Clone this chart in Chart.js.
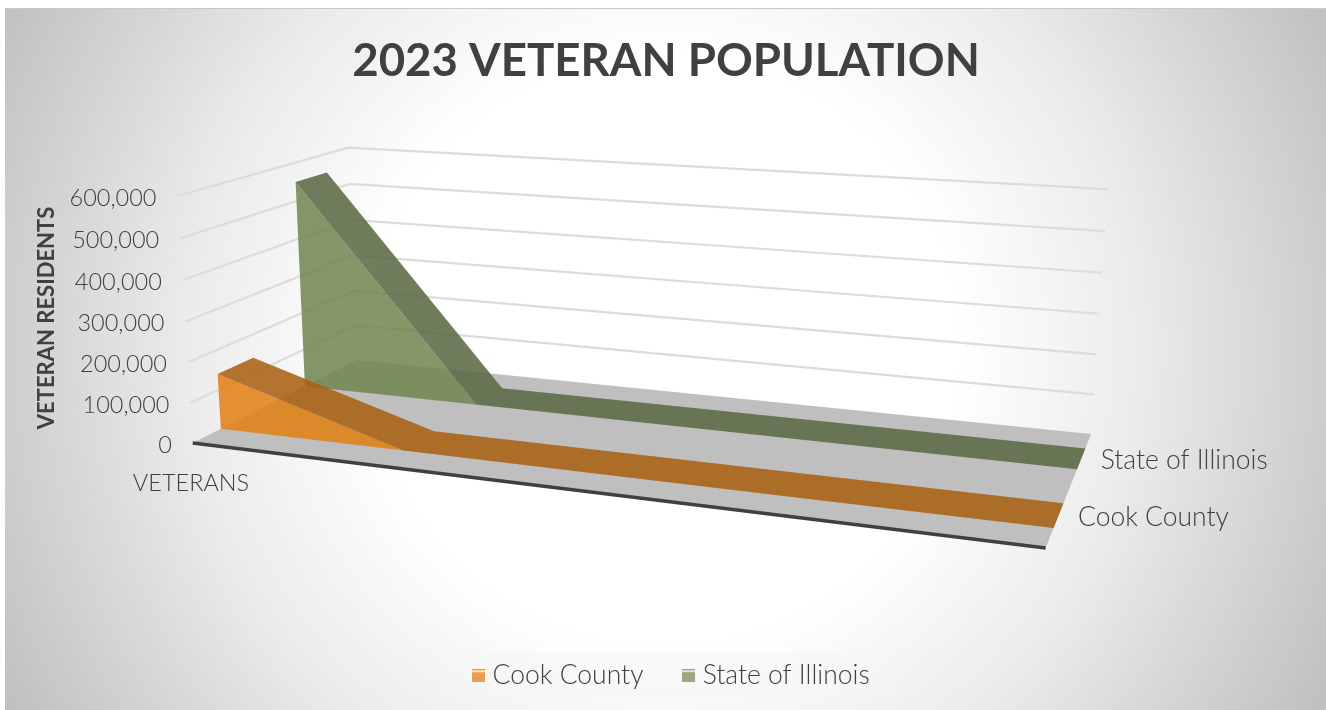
<!DOCTYPE html>
<html>
<head>
<meta charset="utf-8">
<title>2023 Veteran Population</title>
<style>
html,body{margin:0;padding:0;background:#fff;overflow:hidden}
canvas{display:block}
</style>
<script src="https://cdn.jsdelivr.net/npm/chart.js@4"></script>
</head>
<body>
<canvas id="c" width="1326" height="710"></canvas>
<script>
// Chart data
const chartTitle = '2023 VETERAN POPULATION';
const valueAxisTitle = 'VETERAN RESIDENTS';
const categories = ['VETERANS', '', '', '', ''];
const seriesNames = ['Cook County', 'State of Illinois'];
const cookCounty = [140000, 0, 0, 0, 0];
const stateOfIllinois = [550000, 0, 0, 0, 0];
const valueTicks = [0, 100000, 200000, 300000, 400000, 500000, 600000];

// Style tables
const TEXT = '#404040';
const FONT = 'Lato';
const faceColors = ['rgba(225,127,16,0.85)', 'rgba(112,133,77,0.85)'];
const ribbonColors = ['rgba(169,96,17,0.87)', 'rgba(91,106,68,0.87)'];
const legendColors = ['#e8a050', '#9aa77f'];
const legendStripes = ['#f8dfc0', '#dfe4d6'];

// Perspective box: unit cube (across, depth, height) onto the drawing surface
const origin = [193, 443], acrossEnd = [1047, 548], depthEnd = [357, 360], heightEnd = [177.5, 196];
const persp = { u: -0.161, t: 0.171, w: -0.035 };
const vecU = [(1 + persp.u) * acrossEnd[0] - origin[0], (1 + persp.u) * acrossEnd[1] - origin[1]];
const vecT = [(1 + persp.t) * depthEnd[0] - origin[0], (1 + persp.t) * depthEnd[1] - origin[1]];
const vecW = [(1 + persp.w) * heightEnd[0] - origin[0], (1 + persp.w) * heightEnd[1] - origin[1]];
const valueMax = valueTicks[valueTicks.length - 1];
const depthBands = [[0.15, 0.35], [0.65, 0.85]];

function project(u, t, v) {
  const w = v / valueMax;
  const d = 1 + persp.u * u + persp.t * t + persp.w * w;
  return {
    x: (origin[0] + vecU[0] * u + vecT[0] * t + vecW[0] * w) / d,
    y: (origin[1] + vecU[1] * u + vecT[1] * t + vecW[1] * w) / d
  };
}
const across = i => i / (categories.length - 1);

function polygon(points, color) {
  return { data: points, backgroundColor: color, borderWidth: 0, fill: 'shape', pointRadius: 0, tension: 0, clip: false };
}
function polyline(points, color, width) {
  return { data: points, borderColor: color, borderWidth: width, fill: false, pointRadius: 0, tension: 0, clip: false, borderCapStyle: 'butt' };
}

function areaDatasets(values, band, face, ribbon) {
  const [t0, t1] = band;
  const front = values.map((v, i) => project(across(i), t0, v));
  const frontClosed = front.concat([project(1, t0, 0), project(0, t0, 0)]);
  const back = values.map((v, i) => project(across(i), t1, v)).reverse();
  return [polygon(frontClosed, face), polygon(front.concat(back), ribbon)];
}

// Painted from the back of the scene to the front
const painted = [];
valueTicks.slice(1).forEach(v => {
  painted.push(polyline([project(0, 0, v), project(0, 1, v), project(1, 1, v)], '#dcdcdc', 2.2));
});
painted.push(polygon([project(0, 0, 0), project(1, 0, 0), project(1, 1, 0), project(0, 1, 0)], '#bfbfbf'));
painted.push(...areaDatasets(stateOfIllinois, depthBands[1], faceColors[1], ribbonColors[1]));
painted.push(...areaDatasets(cookCounty, depthBands[0], faceColors[0], ribbonColors[0]));
painted.push(polyline([project(0, 0, 0), project(1, 0, 0)], '#404040', 3.5));
// Chart.js paints the first dataset last, so the list is handed over reversed
const datasets = painted.slice().reverse();

function legendSprite(i) {
  const c = document.createElement('canvas');
  c.width = 13; c.height = 13;
  const g = c.getContext('2d');
  g.fillStyle = legendColors[i];
  g.fillRect(0, 0, 13, 13);
  g.fillStyle = legendStripes[i];
  g.fillRect(0, 1, 13, 2);
  return c;
}
const sprites = seriesNames.map((_, i) => legendSprite(i));

const panelBackground = {
  id: 'panelBackground',
  beforeDraw(chart) {
    const { ctx } = chart;
    ctx.save();
    ctx.fillStyle = '#ffffff';
    ctx.fillRect(0, 0, 1326, 710);
    const g = ctx.createRadialGradient(664, 350, 0, 664, 350, 770);
    g.addColorStop(0, '#ffffff');
    g.addColorStop(0.38, '#ffffff');
    g.addColorStop(0.62, '#ebebeb');
    g.addColorStop(1, '#bcbcbc');
    ctx.fillStyle = g;
    ctx.fillRect(5, 9, 1321, 701);
    ctx.fillStyle = '#c9c9c9';
    ctx.fillRect(5, 8, 1321, 1);
    ctx.fillStyle = 'rgba(246,246,246,0.5)';
    ctx.fillRect(440, 653, 456, 45);
    ctx.restore();
  }
};

// The legend sits a little right of the title's centre line
const legendNudge = {
  id: 'legendNudge',
  afterLayout(chart) {
    chart.legend.left += 8;
    chart.legend.right += 8;
  }
};

const axisText = {
  id: 'axisText',
  afterDatasetsDraw(chart) {
    const { ctx } = chart;
    ctx.save();
    ctx.fillStyle = TEXT;
    ctx.textBaseline = 'middle';
    ctx.font = `300 23.5px ${FONT}`;
    ctx.textAlign = 'right';
    valueTicks.forEach(v => {
      const p = project(0, 0, v);
      ctx.fillText(v.toLocaleString('en-US'), p.x - 21, p.y + 2);
    });
    ctx.textAlign = 'center';
    categories.forEach((name, i) => {
      if (!name) return;
      const p = project(across(i), 0, 0);
      ctx.fillText(name, p.x - 2, p.y + 40);
    });
    ctx.textAlign = 'left';
    ctx.font = `300 26.5px ${FONT}`;
    seriesNames.forEach((name, i) => {
      const p = project(1, (depthBands[i][0] + depthBands[i][1]) / 2, 0);
      ctx.fillText(name, p.x + 18, p.y + 2);
    });
    ctx.translate(47, 318);
    ctx.rotate(-Math.PI / 2);
    ctx.textAlign = 'center';
    ctx.font = `700 22px ${FONT}`;
    ctx.fillText(valueAxisTitle, 0, 0);
    ctx.restore();
  }
};

const chart = new Chart(document.getElementById('c'), {
  type: 'line',
  data: { datasets },
  plugins: [panelBackground, legendNudge, axisText],
  options: {
    responsive: false,
    animation: false,
    events: [],
    devicePixelRatio: 1,
    parsing: false,
    layout: { padding: { left: 6, bottom: 11, top: 34 } },
    scales: {
      x: { type: 'linear', display: false },
      y: { type: 'linear', display: false, reverse: true }
    },
    plugins: {
      tooltip: { enabled: false },
      title: {
        display: true,
        text: chartTitle,
        color: '#404040',
        font: { family: FONT, size: 45.6, weight: '700' },
        padding: { top: 0, bottom: 10 }
      },
      legend: {
        display: true,
        position: 'bottom',
        labels: {
          color: TEXT,
          font: { family: FONT, size: 26.5, weight: '300' },
          usePointStyle: true,
          pointStyleWidth: 1,
          padding: 45,
          generateLabels: () => seriesNames.map((name, i) => ({
            text: name,
            fontColor: TEXT,
            pointStyle: sprites[i],
            fillStyle: legendColors[i],
            strokeStyle: legendColors[i],
            lineWidth: 0,
            datasetIndex: i
          }))
        }
      }
    }
  }
});

// Align the hidden scales with the laid-out plot area so one unit equals one pixel
const area = chart.chartArea;
chart.options.scales.x.min = area.left;
chart.options.scales.x.max = area.right;
chart.options.scales.y.min = area.top;
chart.options.scales.y.max = area.bottom;
chart.update('none');
</script>
</body>
</html>
